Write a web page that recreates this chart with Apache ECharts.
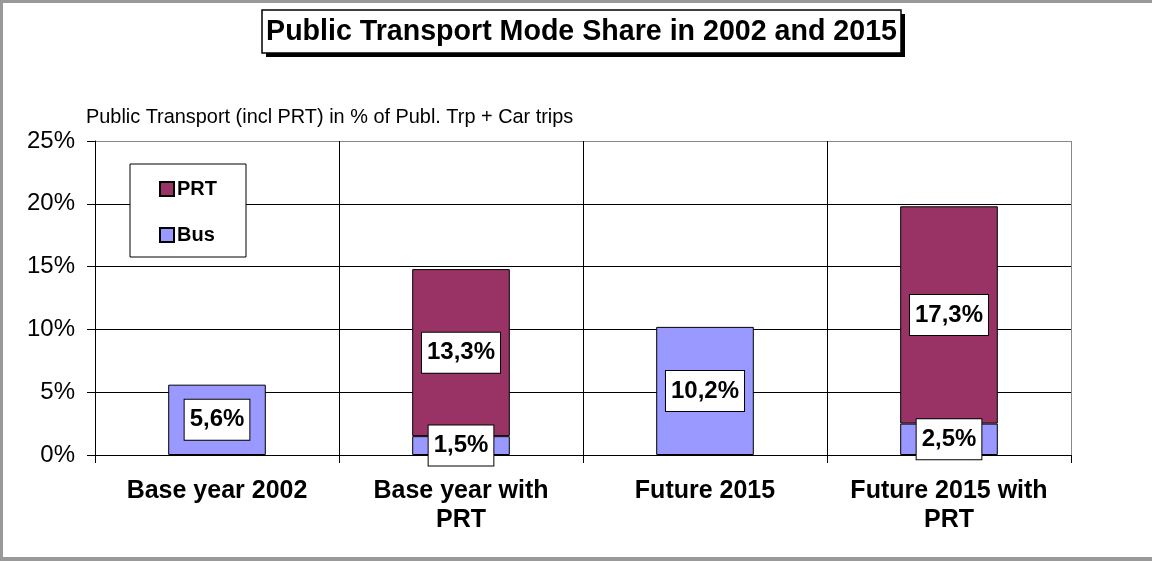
<!DOCTYPE html>
<html>
<head>
<meta charset="utf-8">
<script src="https://cdn.jsdelivr.net/npm/echarts@6/dist/echarts.min.js"></script>
<style>
html,body{margin:0;padding:0;background:#fff;}
#wrap{position:relative;width:1152px;height:561px;}
#chart{position:absolute;left:0;top:0;width:1152px;height:561px;}
#frame{position:absolute;left:0;top:0;width:1152px;height:561px;box-sizing:border-box;border-left:3px solid #999;border-top:3px solid #999;border-bottom:4px solid #999;pointer-events:none;}
</style>
</head>
<body>
<div id="wrap"><div id="chart"></div><div id="frame"></div></div>
<script>
var categories = ['Base year 2002', 'Base year with\nPRT', 'Future 2015', 'Future 2015 with\nPRT'];
var busValues = [5.6, 1.5, 10.2, 2.5];
var prtValues = [null, 13.3, null, 17.3];
var yTicks = [0, 5, 10, 15, 20, 25];
var titleText = 'Public Transport Mode Share in 2002 and 2015';
var subtitleText = 'Public Transport (incl PRT) in % of Publ. Trp + Car trips';

var FONT = '"Liberation Sans", Arial, sans-serif';
function fmt(v) { return String(v).replace('.', ',') + '%'; }

var dataLabel = {
  show: true,
  position: 'inside',
  formatter: function (p) { return p.value == null ? '' : fmt(p.value); },
  color: '#000',
  fontFamily: FONT,
  fontWeight: 'bold',
  fontSize: 24,
  lineHeight: 26,
  backgroundColor: '#fff',
  borderColor: '#000',
  borderWidth: 1,
  padding: [8, 5, 6, 5]
};

var chart = echarts.init(document.getElementById('chart'), null, { renderer: 'canvas' });
chart.setOption({
  animation: false,
  backgroundColor: '#fff',
  graphic: [
    { type: 'rect', z: 10, shape: { x: 266, y: 14, width: 639, height: 43 }, style: { fill: '#000' } },
    { type: 'rect', z: 11, shape: { x: 262, y: 10, width: 639, height: 43 }, style: { fill: '#fff', stroke: '#000', lineWidth: 1.5 } },
    { type: 'text', z: 12, x: 581.5, y: 32, style: { text: titleText, font: 'bold 28.6px ' + FONT, fill: '#000', textAlign: 'center', textVerticalAlign: 'middle' } },
    { type: 'text', z: 12, x: 86, y: 118, style: { text: subtitleText, font: '19.9px ' + FONT, fill: '#000', textAlign: 'left', textVerticalAlign: 'middle' } }
  ],
  legend: {
    orient: 'vertical',
    left: 130,
    top: 164,
    data: ['PRT', 'Bus'],
    backgroundColor: '#fff',
    borderColor: '#000',
    borderWidth: 1,
    padding: [15, 29, 12, 29],
    itemGap: 26,
    itemWidth: 14,
    itemHeight: 14,
    icon: 'rect',
    textStyle: { fontFamily: FONT, fontWeight: 'bold', fontSize: 20, color: '#000', lineHeight: 20, padding: [0, 0, 0, -2] }
  },
  grid: { left: 95, right: 81, top: 141, bottom: 106, containLabel: false },
  xAxis: {
    type: 'category',
    data: categories,
    axisLine: { lineStyle: { color: '#000', width: 1 } },
    axisTick: { show: true, length: 8, lineStyle: { color: '#000' } },
    splitLine: { show: true, lineStyle: { color: ['#000', '#000', '#000', '#000', '#888'], width: 1 } },
    axisLabel: { color: '#000', fontFamily: FONT, fontWeight: 'bold', fontSize: 25, lineHeight: 29, margin: 22, interval: 0 }
  },
  yAxis: {
    type: 'value',
    min: yTicks[0],
    max: yTicks[yTicks.length - 1],
    interval: 5,
    axisLine: { show: true, lineStyle: { color: '#000' } },
    axisTick: { show: true, length: 8, lineStyle: { color: '#000' } },
    splitLine: { show: true, lineStyle: { color: ['#000', '#000', '#000', '#000', '#000', '#888'], width: 1 } },
    axisLabel: { color: '#000', fontFamily: FONT, fontSize: 24, margin: 20, formatter: '{value}%' }
  },
  series: [
    {
      name: 'Bus', type: 'bar', stack: 'pt', barWidth: '40%', data: busValues,
      itemStyle: { color: '#9999ff', borderColor: '#000', borderWidth: 1 },
      label: dataLabel
    },
    {
      name: 'PRT', type: 'bar', stack: 'pt', barWidth: '40%', data: prtValues,
      itemStyle: { color: '#993366', borderColor: '#000', borderWidth: 1 },
      label: dataLabel
    }
  ]
});
</script>
</body>
</html>
